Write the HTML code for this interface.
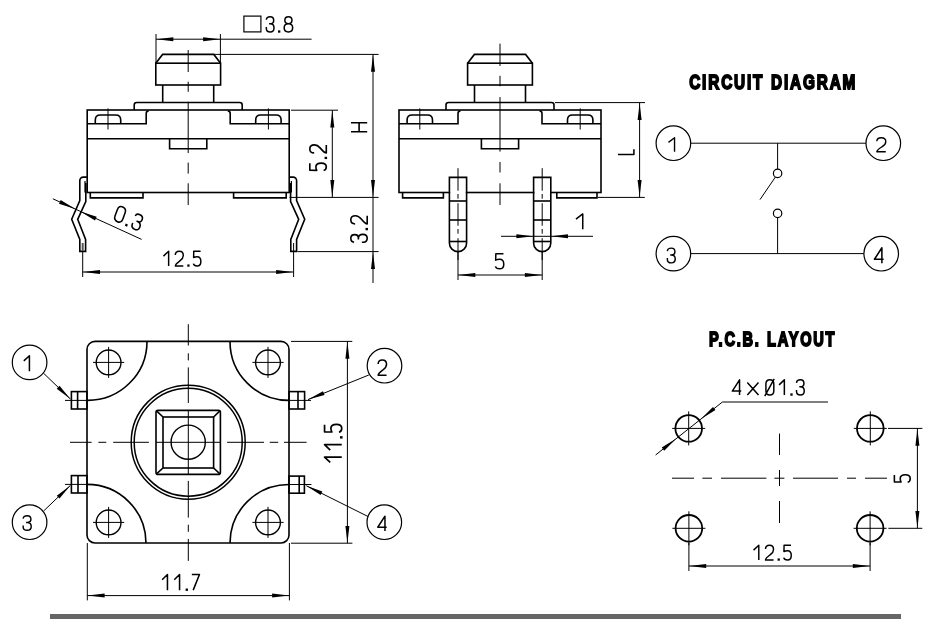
<!DOCTYPE html>
<html><head><meta charset="utf-8"><style>
html,body{margin:0;padding:0;background:#fff;}
svg{display:block;}
</style></head><body>
<svg style="will-change:transform" width="950" height="635" viewBox="0 0 950 635" font-family="Liberation Sans, sans-serif" fill="none" stroke="#000" stroke-linecap="butt" stroke-linejoin="miter">
<rect x="0" y="0" width="950" height="635" fill="#fff" stroke="none"/>
<path d="M155.8,63.2 L162.6,54.4 L213.8,54.4 L220.6,63.2" stroke-width="1.6"/>
<rect x="155.8" y="63.2" width="64.8" height="21.8" rx="0" stroke-width="1.6"/>
<path d="M162.7,85 L162.7,102.5" stroke-width="1.6"/>
<path d="M213.7,85 L213.7,102.5" stroke-width="1.6"/>
<path d="M134.2,110 V105 Q134.2,102.5 136.7,102.5 H239.7 Q242.2,102.5 242.2,105 V110" stroke-width="1.6"/>
<rect x="87.2" y="110" width="202" height="82.5" rx="0" stroke-width="1.6"/>
<path d="M87.2,123.7 H146.2 V113.5 Q146.2,111 148.7,111" stroke-width="1.6"/>
<path d="M289.2,123.7 H230.2 V113.5 Q230.2,111 227.7,111" stroke-width="1.6"/>
<path d="M95.3,123.7 V120 Q95.3,115 100.3,115 H115.7 Q120.7,115 120.7,120 V123.7" stroke-width="1.6"/>
<line x1="108" y1="108.4" x2="108" y2="129.5" stroke-width="1.0"/>
<path d="M255.7,123.7 V120 Q255.7,115 260.7,115 H276.1 Q281.1,115 281.1,120 V123.7" stroke-width="1.6"/>
<line x1="268.4" y1="108.4" x2="268.4" y2="129.5" stroke-width="1.0"/>
<line x1="87.2" y1="138.7" x2="289.2" y2="138.7" stroke-width="1.6"/>
<path d="M169.6,138.7 L169.6,148.8 L206.8,148.8 L206.8,138.7" stroke-width="1.6"/>
<path d="M188.2,50 V72 M188.2,81.7 V91.8 M188.2,101.8 V153 M188.2,162.6 V173.6 M188.2,183.3 V205" stroke-width="1.0"/>
<path d="M90.3,192.5 L90.3,197.9 L143,197.9 L143,192.5" stroke-width="1.6"/>
<path d="M233.6,192.5 L233.6,197.9 L286.2,197.9 L286.2,192.5" stroke-width="1.6"/>
<path d="M86.9,177.1 H83.3 A3.5,3.5 0 0 0 79.8,180.6 V200.6 L71.7,219.3 L79.8,239.4 V251.4 H85.6 V239.4 L77.7,219.3 L85.8,201.5 V183" stroke-width="1.6"/>
<line x1="85" y1="181" x2="85" y2="192.5" stroke-width="1.2"/>
<line x1="82.7" y1="243" x2="82.7" y2="251" stroke="#555" stroke-width="2"/>
<path d="M289.5,177.1 H293.1 A3.5,3.5 0 0 1 296.6,180.6 V200.6 L304.7,219.3 L296.6,239.4 V251.4 H290.8 V239.4 L298.7,219.3 L290.6,201.5 V183" stroke-width="1.6"/>
<line x1="291.4" y1="181" x2="291.4" y2="192.5" stroke-width="1.2"/>
<line x1="156" y1="34" x2="156" y2="63" stroke-width="1.0"/>
<line x1="220.4" y1="34" x2="220.4" y2="63" stroke-width="1.0"/>
<line x1="156" y1="39.2" x2="311.6" y2="39.2" stroke-width="1.0"/>
<path d="M156.3,39.2 L173.3,37.2 L173.3,41.2 Z" fill="#000" stroke="none"/>
<path d="M220.1,39.2 L203.1,41.2 L203.1,37.2 Z" fill="#000" stroke="none"/>
<rect x="243.9" y="16.1" width="17" height="15.8" rx="0" stroke-width="1.2"/>
<path d="M266.34,19.79 C266.49,17.8 267.87,16.75 270.18,16.75 C272.48,16.75 273.71,18.18 273.71,20.46 C273.71,22.64 272.48,23.78 270.18,23.78 L269.1,23.78 M270.18,23.78 C272.64,23.78 274.02,25.3 274.02,27.96 C274.02,30.62 272.48,31.95 270.18,31.95 C267.87,31.95 266.34,30.62 266.34,28.43 L266.34,27.01 M288.41,23.69 C286.12,23.69 284.84,22.36 284.84,20.27 C284.84,18.08 286.37,16.75 288.41,16.75 C290.45,16.75 291.98,18.08 291.98,20.27 C291.98,22.36 290.71,23.69 288.41,23.69 C285.78,23.69 284.16,25.3 284.16,27.77 C284.16,30.43 285.95,31.95 288.41,31.95 C290.88,31.95 292.66,30.43 292.66,27.77 C292.66,25.3 291.05,23.69 288.41,23.69 Z" stroke-width="1.50" stroke-linecap="butt" stroke-linejoin="round"/>
<path d="M278.03,30.36 L280.32,30.36 L280.32,32.7 L278.03,32.7 Z" fill="#000" stroke="none"/>
<line x1="213.5" y1="54.4" x2="378.6" y2="54.4" stroke-width="1.0"/>
<line x1="291" y1="110.2" x2="338" y2="110.2" stroke-width="1.0"/>
<line x1="289.5" y1="197.4" x2="378.6" y2="197.4" stroke-width="1.0"/>
<line x1="297.5" y1="251.6" x2="378.6" y2="251.6" stroke-width="1.0"/>
<line x1="332.3" y1="110.2" x2="332.3" y2="197.4" stroke-width="1.0"/>
<path d="M332.3,110.5 L334.3,127.5 L330.3,127.5 Z" fill="#000" stroke="none"/>
<path d="M332.3,197.1 L330.3,180.1 L334.3,180.1 Z" fill="#000" stroke="none"/>
<line x1="373" y1="54.4" x2="373" y2="283" stroke-width="1.0"/>
<path d="M373,54.7 L375,71.7 L371,71.7 Z" fill="#000" stroke="none"/>
<path d="M373,197.1 L371,180.1 L375,180.1 Z" fill="#000" stroke="none"/>
<path d="M373,251.9 L375,268.9 L371,268.9 Z" fill="#000" stroke="none"/>
<path d="M309.81,163.36 L309.81,170.19 L316.81,170.34 C316.2,169.36 315.89,168.16 315.89,166.81 C315.89,164.26 318.26,163.06 321.24,163.06 C324.54,163.06 326.29,164.56 326.29,166.81 C326.29,168.76 325.05,170.26 323.61,170.57 M314.14,152.93 C311.36,152.93 309.81,151.33 309.81,148.93 C309.81,146.53 311.36,144.93 314.45,144.93 C317.02,144.93 318.36,145.89 320.31,148.13 C322.68,150.93 324.23,152.93 326.29,152.93 L326.29,144.93" stroke-width="1.63" stroke-linecap="butt" stroke-linejoin="round"/>
<path d="M324.57,159.06 L324.57,156.77 L327.1,156.77 L327.1,159.06 Z" fill="#000" stroke="none"/>
<path d="M351,131.74 L367.2,131.74 M351,122.76 L367.2,122.76 M359.1,131.74 L359.1,122.76" stroke-width="1.60" stroke-linecap="butt" stroke-linejoin="round"/>
<path d="M354.09,242.25 C351.94,242.09 350.81,240.67 350.81,238.31 C350.81,235.94 352.35,234.68 354.8,234.68 C357.16,234.68 358.39,235.94 358.39,238.31 L358.39,239.41 M358.39,238.31 C358.39,235.78 360.02,234.37 362.89,234.37 C365.76,234.37 367.19,235.94 367.19,238.31 C367.19,240.67 365.76,242.25 363.4,242.25 L361.87,242.25 M355.11,223.97 C352.35,223.97 350.81,222.33 350.81,219.86 C350.81,217.4 352.35,215.75 355.42,215.75 C357.98,215.75 359.31,216.74 361.25,219.04 C363.61,221.92 365.14,223.97 367.19,223.97 L367.19,215.75" stroke-width="1.62" stroke-linecap="butt" stroke-linejoin="round"/>
<path d="M365.48,230.26 L365.48,227.91 L368,227.91 L368,230.26 Z" fill="#000" stroke="none"/>
<line x1="82.7" y1="251.4" x2="82.7" y2="277" stroke-width="1.0"/>
<line x1="293.6" y1="243" x2="293.6" y2="277" stroke-width="1.0"/>
<line x1="82.7" y1="272" x2="293.4" y2="272" stroke-width="1.0"/>
<path d="M83,272 L100,270 L100,274 Z" fill="#000" stroke="none"/>
<path d="M293.1,272 L276.1,274 L276.1,270 Z" fill="#000" stroke="none"/>
<path d="M163.43,256.11 L168.64,251.23 L168.64,265.97 M175.31,255.1 C175.31,252.61 176.91,251.23 179.3,251.23 C181.69,251.23 183.29,252.61 183.29,255.38 C183.29,257.68 182.33,258.88 180.1,260.63 C177.31,262.75 175.31,264.13 175.31,265.97 L183.29,265.97 M200.57,251.23 L193.75,251.23 L193.61,257.49 C194.58,256.94 195.78,256.67 197.12,256.67 C199.67,256.67 200.87,258.78 200.87,261.46 C200.87,264.4 199.37,265.97 197.12,265.97 C195.18,265.97 193.68,264.87 193.38,263.58" stroke-width="1.46" stroke-linecap="butt" stroke-linejoin="round"/>
<path d="M187.28,264.43 L189.56,264.43 L189.56,266.7 L187.28,266.7 Z" fill="#000" stroke="none"/>
<line x1="52.9" y1="198.8" x2="141.6" y2="239.4" stroke-width="1.0"/>
<path d="M75.3,209 L59.01,203.74 L60.68,200.1 Z" fill="#000" stroke="none"/>
<path d="M80.4,211.5 L96.69,216.76 L95.02,220.4 Z" fill="#000" stroke="none"/>
<path d="M117.42,209.41 C118.39,206.75 120.46,205.96 122.77,206.99 C125.08,208.02 126.09,210.17 125.12,212.84 L122.78,219.28 C121.81,221.94 119.73,222.73 117.42,221.7 C115.11,220.67 114.11,218.52 115.08,215.85 Z M135.29,215.98 C136.14,214.12 137.84,213.7 140.06,214.68 C142.27,215.67 142.95,217.57 142.15,219.78 C141.38,221.9 139.8,222.47 137.58,221.49 L136.55,221.03 M137.58,221.49 C139.95,222.54 140.74,224.6 139.8,227.18 C138.87,229.75 136.92,230.38 134.7,229.4 C132.49,228.41 131.48,226.46 132.25,224.35 L132.75,222.97" stroke-width="1.55" stroke-linecap="butt" stroke-linejoin="round"/>
<path d="M125.68,223.59 L127.88,224.57 L127.06,226.84 L124.86,225.86 Z" fill="#000" stroke="none"/>
<path d="M467.6,63.2 L474.4,54.4 L525.6,54.4 L532.4,63.2" stroke-width="1.6"/>
<rect x="467.6" y="63.2" width="64.8" height="21.8" rx="0" stroke-width="1.6"/>
<path d="M474.5,85 L474.5,102.5" stroke-width="1.6"/>
<path d="M525.5,85 L525.5,102.5" stroke-width="1.6"/>
<path d="M446,110 V105 Q446,102.5 448.5,102.5 H551.5 Q554,102.5 554,105 V110" stroke-width="1.6"/>
<rect x="399" y="110" width="202" height="82.5" rx="0" stroke-width="1.6"/>
<path d="M399,123.7 H458 V113.5 Q458,111 460.5,111" stroke-width="1.6"/>
<path d="M601,123.7 H542 V113.5 Q542,111 539.5,111" stroke-width="1.6"/>
<path d="M407.1,123.7 V120 Q407.1,115 412.1,115 H427.5 Q432.5,115 432.5,120 V123.7" stroke-width="1.6"/>
<line x1="419.8" y1="108.4" x2="419.8" y2="129.5" stroke-width="1.0"/>
<path d="M567.5,123.7 V120 Q567.5,115 572.5,115 H587.9 Q592.9,115 592.9,120 V123.7" stroke-width="1.6"/>
<line x1="580.2" y1="108.4" x2="580.2" y2="129.5" stroke-width="1.0"/>
<line x1="399" y1="138.7" x2="601" y2="138.7" stroke-width="1.6"/>
<path d="M481.4,138.7 L481.4,148.8 L518.6,148.8 L518.6,138.7" stroke-width="1.6"/>
<path d="M500,43.6 V65.9 M500,75.8 V86.3 M500,97.1 V151.6 M500,162 V172.5 M500,183.3 V205" stroke-width="1.0"/>
<path d="M402.6,192.5 L402.6,197.9 L443.4,197.9 L443.4,192.5" stroke-width="1.6"/>
<path d="M556.8,192.5 L556.8,197.9 L597,197.9 L597,192.5" stroke-width="1.6"/>
<rect x="450.2" y="190" width="15.6" height="5" fill="#fff" stroke="none"/>
<path d="M449.4,192.5 V177.4 H466.6 V243 A8.6,8.6 0 0 1 449.4,243 V192.5" stroke-width="1.6"/>
<line x1="449.4" y1="201" x2="466.6" y2="201" stroke-width="1.6"/>
<line x1="449.4" y1="220" x2="466.6" y2="220" stroke-width="1.6"/>
<line x1="449.4" y1="241.5" x2="466.6" y2="241.5" stroke-width="1.6"/>
<line x1="458" y1="168.2" x2="458" y2="260" stroke-width="1.0" stroke-dasharray="22.5,3.3,4.7,4.5"/>
<rect x="534.4" y="190" width="15.6" height="5" fill="#fff" stroke="none"/>
<path d="M533.6,192.5 V177.4 H550.8 V243 A8.6,8.6 0 0 1 533.6,243 V192.5" stroke-width="1.6"/>
<line x1="533.6" y1="201" x2="550.8" y2="201" stroke-width="1.6"/>
<line x1="533.6" y1="220" x2="550.8" y2="220" stroke-width="1.6"/>
<line x1="533.6" y1="241.5" x2="550.8" y2="241.5" stroke-width="1.6"/>
<line x1="542.2" y1="168.2" x2="542.2" y2="260" stroke-width="1.0" stroke-dasharray="22.5,3.3,4.7,4.5"/>
<line x1="458" y1="252" x2="458" y2="280" stroke-width="1.0"/>
<line x1="542.2" y1="252" x2="542.2" y2="280" stroke-width="1.0"/>
<line x1="458" y1="275" x2="542.2" y2="275" stroke-width="1.0"/>
<path d="M458.3,275 L475.3,273 L475.3,277 Z" fill="#000" stroke="none"/>
<path d="M541.9,275 L524.9,277 L524.9,273 Z" fill="#000" stroke="none"/>
<path d="M503.45,253.75 L495.84,253.75 L495.67,260.17 C496.76,259.6 498.09,259.32 499.6,259.32 C502.44,259.32 503.78,261.49 503.78,264.23 C503.78,267.25 502.11,268.85 499.6,268.85 C497.43,268.85 495.75,267.72 495.42,266.4" stroke-width="1.49" stroke-linecap="butt" stroke-linejoin="round"/>
<line x1="501" y1="236.3" x2="593" y2="236.3" stroke-width="1.0"/>
<path d="M533.4,236.3 L516.4,238.3 L516.4,234.3 Z" fill="#000" stroke="none"/>
<path d="M551,236.3 L568,234.3 L568,238.3 Z" fill="#000" stroke="none"/>
<path d="M575.95,219.02 L582.75,213.96 L582.75,229.24" stroke-width="1.51" stroke-linecap="butt" stroke-linejoin="round"/>
<line x1="555" y1="102.6" x2="645" y2="102.6" stroke-width="1.0"/>
<line x1="598" y1="197.4" x2="644.8" y2="197.4" stroke-width="1.0"/>
<line x1="639.6" y1="102.6" x2="639.6" y2="197.4" stroke-width="1.0"/>
<path d="M639.6,102.9 L641.6,119.9 L637.6,119.9 Z" fill="#000" stroke="none"/>
<path d="M639.6,197.1 L637.6,180.1 L641.6,180.1 Z" fill="#000" stroke="none"/>
<path d="M617.99,154.44 L633.91,154.44 L633.91,149.16" stroke-width="1.57" stroke-linecap="butt" stroke-linejoin="round"/>
<text transform="translate(689.2,88.96) scale(0.1534,0.2076)" font-weight="700" font-size="100" letter-spacing="12" word-spacing="4" fill="#000" stroke="#000" stroke-width="9" stroke-linejoin="miter">CIRCUIT DIAGRAM</text>
<circle cx="673.4" cy="143.2" r="17.3" stroke-width="1.2"/>
<path d="M668.46,142.34 L674.54,137.69 L674.54,151.71" stroke-width="1.39" stroke-linecap="butt" stroke-linejoin="round"/>
<circle cx="883.3" cy="143.2" r="17.3" stroke-width="1.2"/>
<path d="M876.82,141.37 C876.82,139.01 878.61,137.69 881.3,137.69 C883.99,137.69 885.78,139.01 885.78,141.63 C885.78,143.82 884.7,144.96 882.2,146.63 C879.06,148.64 876.82,149.96 876.82,151.71 L885.78,151.71" stroke-width="1.39" stroke-linecap="butt" stroke-linejoin="round"/>
<circle cx="673.4" cy="253.6" r="17.3" stroke-width="1.2"/>
<path d="M667.36,251.08 C667.51,249.14 668.93,248.13 671.3,248.13 C673.67,248.13 674.93,249.51 674.93,251.72 C674.93,253.84 673.67,254.95 671.3,254.95 L670.2,254.95 M671.3,254.95 C673.82,254.95 675.24,256.42 675.24,259 C675.24,261.58 673.67,262.87 671.3,262.87 C668.93,262.87 667.36,261.58 667.36,259.46 L667.36,258.08" stroke-width="1.46" stroke-linecap="butt" stroke-linejoin="round"/>
<circle cx="881.2" cy="253.7" r="17.3" stroke-width="1.2"/>
<path d="M881.89,263.24 L881.89,247.76 L874.46,259.27 L883.64,259.27" stroke-width="1.53" stroke-linecap="butt" stroke-linejoin="round"/>
<line x1="690.7" y1="143.2" x2="866" y2="143.2" stroke-width="1.0"/>
<line x1="690.7" y1="253.6" x2="863.9" y2="253.6" stroke-width="1.0"/>
<line x1="777.6" y1="143.2" x2="777.6" y2="169.2" stroke-width="1.0"/>
<circle cx="777.6" cy="173.4" r="4.2" stroke-width="1.2"/>
<line x1="775.4" y1="177" x2="760" y2="199.6" stroke-width="1.0"/>
<circle cx="777.6" cy="213.4" r="4.2" stroke-width="1.2"/>
<line x1="777.6" y1="217.6" x2="777.6" y2="253.6" stroke-width="1.0"/>
<rect x="87" y="341.4" width="202" height="201.6" rx="8" stroke-width="1.6"/>
<path d="M147,341.4 A59.5,59 0 0 1 87,400.4" stroke-width="1.6"/>
<path d="M230,341.4 A59,59 0 0 0 289,400.4" stroke-width="1.6"/>
<path d="M87,484.4 A59,58.6 0 0 1 146,543" stroke-width="1.6"/>
<path d="M289,484.5 A59,58.5 0 0 0 230,543" stroke-width="1.6"/>
<circle cx="108.6" cy="362.4" r="12.4" stroke-width="1.4"/>
<line x1="93" y1="362.4" x2="124.2" y2="362.4" stroke-width="1.0"/>
<line x1="108.6" y1="346.9" x2="108.6" y2="377.9" stroke-width="1.0"/>
<circle cx="268" cy="362.4" r="12.4" stroke-width="1.4"/>
<line x1="252.4" y1="362.4" x2="283.6" y2="362.4" stroke-width="1.0"/>
<line x1="268" y1="346.9" x2="268" y2="377.9" stroke-width="1.0"/>
<circle cx="108.6" cy="522.4" r="12.4" stroke-width="1.4"/>
<line x1="93" y1="522.4" x2="124.2" y2="522.4" stroke-width="1.0"/>
<line x1="108.6" y1="506.9" x2="108.6" y2="537.9" stroke-width="1.0"/>
<circle cx="268" cy="522.4" r="12.4" stroke-width="1.4"/>
<line x1="252.4" y1="522.4" x2="283.6" y2="522.4" stroke-width="1.0"/>
<line x1="268" y1="506.9" x2="268" y2="537.9" stroke-width="1.0"/>
<circle cx="188.2" cy="442.2" r="57" stroke-width="1.5"/>
<circle cx="188.2" cy="442.2" r="54" stroke-width="1.5"/>
<rect x="156" y="410.4" width="64.4" height="64" rx="2" stroke-width="1.6"/>
<rect x="163" y="417" width="50.6" height="51" rx="0" stroke-width="1.6"/>
<path d="M156.5,410.9 L163,417" stroke-width="1.6"/>
<path d="M219.9,410.9 L213.6,417" stroke-width="1.6"/>
<path d="M156.5,473.9 L163,468" stroke-width="1.6"/>
<path d="M219.9,473.9 L213.6,468" stroke-width="1.6"/>
<circle cx="188.2" cy="442.2" r="17.1" stroke-width="1.4"/>
<path d="M70,442.3 H91.6 M98.4,442.3 H106.3 M113.2,442.3 H148.9 M156,442.3 H220 M227.1,442.3 H264 M269.7,442.3 H278.2 M284,442.3 H306.6" stroke-width="1.0"/>
<path d="M188.3,324.2 V345.5 M188.3,353.3 V360.4 M188.3,367.4 V403 M188.3,409.9 V474.8 M188.3,480.9 V517.6 M188.3,524.7 V531.8 M188.3,538.9 V560.9" stroke-width="1.0"/>
<rect x="71.4" y="391.6" width="15.6" height="17.4" rx="0" stroke-width="1.6"/>
<line x1="77.6" y1="391.6" x2="77.6" y2="409" stroke-width="1.6"/>
<line x1="65" y1="400.4" x2="87" y2="400.4" stroke-width="1.0"/>
<rect x="289" y="391.6" width="15.6" height="17.4" rx="0" stroke-width="1.6"/>
<line x1="298" y1="391.6" x2="298" y2="409" stroke-width="1.6"/>
<line x1="289" y1="400.4" x2="311" y2="400.4" stroke-width="1.0"/>
<rect x="71.4" y="475.6" width="15.6" height="17.4" rx="0" stroke-width="1.6"/>
<line x1="78" y1="475.6" x2="78" y2="493" stroke-width="1.6"/>
<line x1="65" y1="484.4" x2="87" y2="484.4" stroke-width="1.0"/>
<rect x="289" y="476.1" width="15.4" height="17.1" rx="0" stroke-width="1.6"/>
<line x1="299.2" y1="476.1" x2="299.2" y2="493.2" stroke-width="1.6"/>
<line x1="289" y1="484.5" x2="311.4" y2="484.5" stroke-width="1.0"/>
<circle cx="29.6" cy="362.4" r="17.3" stroke-width="1.2"/>
<path d="M23.79,360.85 L29.41,355.76 L29.41,371.14" stroke-width="1.52" stroke-linecap="butt" stroke-linejoin="round"/>
<circle cx="384.5" cy="365.7" r="17.3" stroke-width="1.2"/>
<path d="M378.17,364 C378.17,361.4 379.84,359.96 382.35,359.96 C384.86,359.96 386.53,361.4 386.53,364.29 C386.53,366.69 385.53,367.94 383.19,369.76 C380.26,371.98 378.17,373.42 378.17,375.34 L386.53,375.34" stroke-width="1.52" stroke-linecap="butt" stroke-linejoin="round"/>
<circle cx="29.6" cy="522.2" r="17.3" stroke-width="1.2"/>
<path d="M23.17,518.63 C23.33,516.72 24.78,515.72 27.2,515.72 C29.62,515.72 30.91,517.09 30.91,519.27 C30.91,521.36 29.62,522.45 27.2,522.45 L26.07,522.45 M27.2,522.45 C29.78,522.45 31.23,523.91 31.23,526.46 C31.23,529.01 29.62,530.28 27.2,530.28 C24.78,530.28 23.17,529.01 23.17,526.91 L23.17,525.55" stroke-width="1.44" stroke-linecap="butt" stroke-linejoin="round"/>
<circle cx="384.3" cy="522.2" r="17.3" stroke-width="1.2"/>
<path d="M384.96,531.06 L384.96,516.14 L377.74,527.24 L386.66,527.24" stroke-width="1.48" stroke-linecap="butt" stroke-linejoin="round"/>
<line x1="43.3" y1="373" x2="70.4" y2="399" stroke-width="1.0"/>
<path d="M70.4,399 L56.75,388.67 L59.52,385.79 Z" fill="#000" stroke="none"/>
<line x1="368.8" y1="375" x2="308" y2="399.6" stroke-width="1.0"/>
<path d="M308,399.6 L323.01,391.37 L324.51,395.08 Z" fill="#000" stroke="none"/>
<line x1="43.6" y1="511" x2="70.4" y2="485.4" stroke-width="1.0"/>
<path d="M70.4,485.4 L59.49,498.59 L56.73,495.7 Z" fill="#000" stroke="none"/>
<line x1="368.2" y1="516.6" x2="306.3" y2="485.7" stroke-width="1.0"/>
<path d="M306.3,485.7 L322.4,491.5 L320.62,495.08 Z" fill="#000" stroke="none"/>
<line x1="291" y1="341.4" x2="352.3" y2="341.4" stroke-width="1.0"/>
<line x1="291" y1="543.2" x2="352.4" y2="543.2" stroke-width="1.0"/>
<line x1="347.4" y1="341.4" x2="347.4" y2="543.2" stroke-width="1.0"/>
<path d="M347.4,341.7 L349.4,358.7 L345.4,358.7 Z" fill="#000" stroke="none"/>
<path d="M347.4,542.9 L345.4,525.9 L349.4,525.9 Z" fill="#000" stroke="none"/>
<path d="M330.25,462.44 L324.55,457.04 L341.75,457.04 M330.25,450.12 L324.55,444.72 L341.75,444.72 M324.55,424.77 L324.55,431.84 L331.86,431.99 C331.22,430.98 330.89,429.74 330.89,428.34 C330.89,425.7 333.36,424.46 336.48,424.46 C339.92,424.46 341.75,426.01 341.75,428.34 C341.75,430.36 340.46,431.91 338.95,432.22" stroke-width="1.70" stroke-linecap="butt" stroke-linejoin="round"/>
<path d="M339.95,438.55 L339.95,436.19 L342.6,436.19 L342.6,438.55 Z" fill="#000" stroke="none"/>
<line x1="87.3" y1="543" x2="87.3" y2="600.4" stroke-width="1.0"/>
<line x1="289.4" y1="543" x2="289.4" y2="600.4" stroke-width="1.0"/>
<line x1="87.3" y1="595.6" x2="289.4" y2="595.6" stroke-width="1.0"/>
<path d="M87.6,595.6 L104.6,593.6 L104.6,597.6 Z" fill="#000" stroke="none"/>
<path d="M289.1,595.6 L272.1,597.6 L272.1,593.6 Z" fill="#000" stroke="none"/>
<path d="M162.15,579.72 L167.45,574.57 L167.45,590.13 M174.25,579.72 L179.56,574.57 L179.56,590.13 M191.83,574.57 L199.45,574.57 L193.2,590.13" stroke-width="1.54" stroke-linecap="butt" stroke-linejoin="round"/>
<path d="M185.61,588.51 L187.93,588.51 L187.93,590.9 L185.61,590.9 Z" fill="#000" stroke="none"/>
<text transform="translate(709.01,345.95) scale(0.1462,0.2101)" font-weight="700" font-size="100" letter-spacing="12" word-spacing="4" fill="#000" stroke="#000" stroke-width="9" stroke-linejoin="miter">P.C.B. LAYOUT</text>
<circle cx="688.7" cy="428.4" r="13.3" stroke-width="1.8"/>
<line x1="672.2" y1="428.4" x2="705.2" y2="428.4" stroke-width="1.0"/>
<line x1="688.7" y1="411.4" x2="688.7" y2="445.4" stroke-width="1.0"/>
<circle cx="870.3" cy="428.4" r="13.3" stroke-width="1.8"/>
<line x1="853.8" y1="428.4" x2="886.8" y2="428.4" stroke-width="1.0"/>
<line x1="870.3" y1="411.4" x2="870.3" y2="445.4" stroke-width="1.0"/>
<circle cx="688.9" cy="528.3" r="13.3" stroke-width="1.8"/>
<line x1="672.4" y1="528.3" x2="705.4" y2="528.3" stroke-width="1.0"/>
<line x1="688.9" y1="511.3" x2="688.9" y2="545.3" stroke-width="1.0"/>
<circle cx="870.1" cy="528.3" r="13.3" stroke-width="1.8"/>
<line x1="853.6" y1="528.3" x2="886.6" y2="528.3" stroke-width="1.0"/>
<line x1="870.1" y1="511.3" x2="870.1" y2="545.3" stroke-width="1.0"/>
<path d="M672,478.2 H694 M702.4,478.2 H712 M721,478.2 H766.4 M774.4,478.2 H784.4 M793,478.2 H838 M847,478.2 H856 M865,478.2 H887" stroke-width="1.0"/>
<path d="M779.5,433.6 V455 M779.5,470 V486 M779.5,501 V523" stroke-width="1.0"/>
<line x1="655.6" y1="455" x2="722.4" y2="402" stroke-width="1.0"/>
<line x1="722.4" y1="402" x2="828" y2="402" stroke-width="1.0"/>
<path d="M676.3,438.6 L664.23,450.73 L661.74,447.6 Z" fill="#000" stroke="none"/>
<path d="M700.9,419.1 L712.97,406.97 L715.46,410.1 Z" fill="#000" stroke="none"/>
<path d="M739.54,394.95 L739.54,379.85 L732.34,391.08 L741.23,391.08 M747.32,382.58 L758.51,394.95 M758.51,382.58 L747.32,394.95 M765.91,384.1 C765.91,381.36 767.49,379.85 769.86,379.85 C772.23,379.85 773.81,381.36 773.81,384.1 L773.81,390.7 C773.81,393.44 772.23,394.95 769.86,394.95 C767.49,394.95 765.91,393.44 765.91,390.7 Z M764.73,396.18 L774.21,378.9 M779.08,384.85 L784.35,379.85 L784.35,394.95 M796.52,382.87 C796.68,380.89 798.07,379.85 800.39,379.85 C802.71,379.85 803.95,381.26 803.95,383.53 C803.95,385.7 802.71,386.83 800.39,386.83 L799.31,386.83 M800.39,386.83 C802.87,386.83 804.26,388.34 804.26,390.99 C804.26,393.63 802.71,394.95 800.39,394.95 C798.07,394.95 796.52,393.63 796.52,391.46 L796.52,390.04" stroke-width="1.49" stroke-linecap="butt" stroke-linejoin="round"/>
<path d="M790.35,393.38 L792.66,393.38 L792.66,395.7 L790.35,395.7 Z" fill="#000" stroke="none"/>
<line x1="888" y1="428.4" x2="922.4" y2="428.4" stroke-width="1.0"/>
<line x1="888.4" y1="528.3" x2="922.3" y2="528.3" stroke-width="1.0"/>
<line x1="917.4" y1="428.4" x2="917.4" y2="528.3" stroke-width="1.0"/>
<path d="M917.4,428.7 L919.4,445.7 L915.4,445.7 Z" fill="#000" stroke="none"/>
<path d="M917.4,528 L915.4,511 L919.4,511 Z" fill="#000" stroke="none"/>
<path d="M894.38,475.04 L894.38,481.89 L901.11,482.04 C900.52,481.06 900.22,479.85 900.22,478.5 C900.22,475.94 902.5,474.74 905.37,474.74 C908.53,474.74 910.22,476.24 910.22,478.5 C910.22,480.46 909.03,481.96 907.64,482.26" stroke-width="1.57" stroke-linecap="butt" stroke-linejoin="round"/>
<line x1="688.9" y1="543" x2="688.9" y2="571" stroke-width="1.0"/>
<line x1="870.1" y1="543" x2="870.1" y2="571" stroke-width="1.0"/>
<line x1="688.9" y1="566" x2="870.1" y2="566" stroke-width="1.0"/>
<path d="M689.2,566 L706.2,564 L706.2,568 Z" fill="#000" stroke="none"/>
<path d="M869.8,566 L852.8,568 L852.8,564 Z" fill="#000" stroke="none"/>
<path d="M753.54,550.11 L758.79,545.23 L758.79,559.97 M765.51,549.1 C765.51,546.61 767.12,545.23 769.53,545.23 C771.94,545.23 773.55,546.61 773.55,549.38 C773.55,551.68 772.58,552.88 770.33,554.63 C767.52,556.75 765.51,558.13 765.51,559.97 L773.55,559.97 M790.96,545.23 L784.09,545.23 L783.94,551.49 C784.92,550.94 786.13,550.67 787.49,550.67 C790.05,550.67 791.26,552.78 791.26,555.46 C791.26,558.4 789.75,559.97 787.49,559.97 C785.53,559.97 784.02,558.87 783.72,557.58" stroke-width="1.46" stroke-linecap="butt" stroke-linejoin="round"/>
<path d="M777.57,558.43 L779.86,558.43 L779.86,560.7 L777.57,560.7 Z" fill="#000" stroke="none"/>
<rect x="50" y="614" width="851" height="5" fill="#666" stroke="none"/>
</svg></body></html>
